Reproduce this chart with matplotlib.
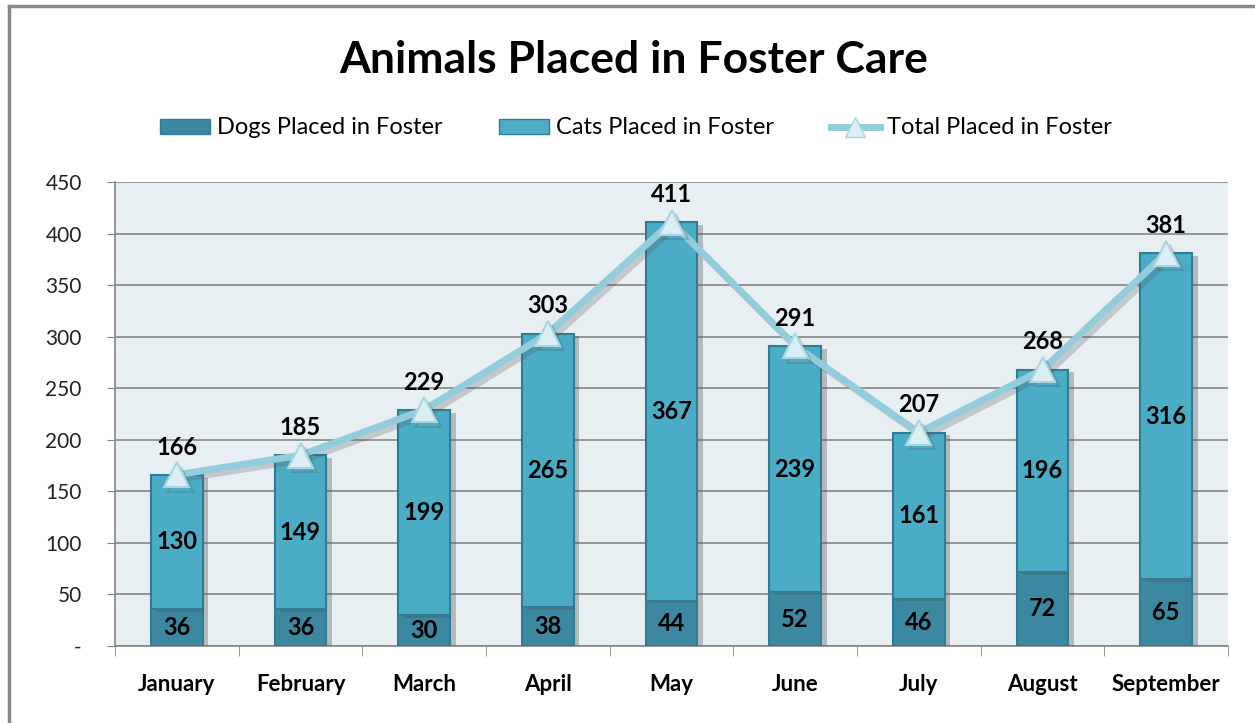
import matplotlib
matplotlib.use("Agg")
import matplotlib.pyplot as plt
import matplotlib.patheffects as pe
from matplotlib.lines import Line2D
from matplotlib.patches import Patch
import numpy as np

months = ["January", "February", "March", "April", "May", "June", "July", "August", "September"]
dogs = [36, 36, 30, 38, 44, 52, 46, 72, 65]
cats = [130, 149, 199, 265, 367, 239, 161, 196, 316]
totals = [166, 185, 229, 303, 411, 291, 207, 268, 381]
yticks = [0, 50, 100, 150, 200, 250, 300, 350, 400, 450]
ytick_labels = ["-", "50", "100", "150", "200", "250", "300", "350", "400", "450"]

plt.rcParams['font.family'] = ['Lato', 'DejaVu Sans']

DOG_C = "#3B88A0"
CAT_C = "#4BACC6"
EDGE_C = "#2F7D95"
LINE_C = "#93CDDD"
MARK_FACE = "#DBEEF4"

fig = plt.figure(figsize=(12.55, 7.23), dpi=100)
ax = fig.add_axes([115/1255, 1 - 646/723, (1228-115)/1255, (646-182)/723])
ax.set_facecolor("#E8EFF3")

x = np.arange(len(months))
w = 0.42
shadow = [pe.SimplePatchShadow(offset=(4, -2), shadow_rgbFace="#555555", alpha=0.35), pe.Normal()]
b1 = ax.bar(x, dogs, w, color=DOG_C, edgecolor=EDGE_C, linewidth=1.5, zorder=3, path_effects=shadow)
b2 = ax.bar(x, cats, w, bottom=dogs, color=CAT_C, edgecolor=EDGE_C, linewidth=1.5, zorder=3, path_effects=shadow)

ax.plot(x, totals, color=LINE_C, linewidth=5, marker="^", markersize=18,
        markerfacecolor=MARK_FACE, markeredgecolor="#A8D6E3", markeredgewidth=1.5, zorder=5,
        path_effects=[pe.SimpleLineShadow(offset=(3, -3), shadow_color="#555555", alpha=0.25), pe.Normal()])

for i in range(len(months)):
    ax.text(x[i], dogs[i] / 2, str(dogs[i]), ha="center", va="center", fontsize=17, fontweight="bold", color="black", zorder=6)
    ax.text(x[i], dogs[i] + cats[i] / 2, str(cats[i]), ha="center", va="center", fontsize=17, fontweight="bold", color="black", zorder=6)
    ax.annotate(str(totals[i]), (x[i], totals[i]), xytext=(0, 20), textcoords="offset points",
                ha="center", va="center", fontsize=17, fontweight="bold", color="black", zorder=6)

ax.set_xlim(-0.5, len(months) - 0.5)
ax.set_ylim(0, 450)
ax.set_yticks(yticks)
ax.set_yticklabels(ytick_labels, fontsize=15)
ax.yaxis.grid(True, color="#868686", linewidth=1.2, zorder=1)
ax.set_axisbelow(True)
ax.tick_params(axis="y", length=6, color="#868686", pad=18, labelcolor="#222222")
ax.set_xticks(x)
ax.set_xticklabels(months, fontsize=16, fontweight="bold")
ax.tick_params(axis="x", length=0, pad=20)
ax.set_xticks(np.arange(-0.5, len(months), 1.0), minor=True)
ax.tick_params(axis="x", which="minor", length=7, color="#868686")
for s in ["top", "right"]:
    ax.spines[s].set_visible(False)
ax.spines["left"].set_color("#868686")
ax.spines["bottom"].set_color("#868686")
ax.spines["left"].set_linewidth(1.2)
ax.spines["bottom"].set_linewidth(1.2)

fig.text(0.505, 1 - 60/723, "Animals Placed in Foster Care", ha="center", va="center", fontsize=32, fontweight="bold")

handles = [Patch(facecolor=DOG_C, edgecolor=EDGE_C), Patch(facecolor=CAT_C, edgecolor=EDGE_C),
           Line2D([0], [0], color=LINE_C, linewidth=5, marker="^", markersize=14, markerfacecolor=MARK_FACE, markeredgecolor="#A8D6E3")]
fig.legend(handles, ["Dogs Placed in Foster", "Cats Placed in Foster", "Total Placed in Foster"],
           loc="center", bbox_to_anchor=(0.507, 1 - 128/723), ncol=3, frameon=False, fontsize=17,
           handlelength=2.1, handleheight=0.6, columnspacing=2.4, handletextpad=0.3)

# partial figure border (left and top)
fig.add_artist(Line2D([9/1255, 9/1255], [0, 1 - 6/723], color="#888888", linewidth=2.5))
fig.add_artist(Line2D([9/1255, 1], [1 - 6/723, 1 - 6/723], color="#888888", linewidth=2.5))

fig.savefig("out.png", dpi=100, facecolor="white")
